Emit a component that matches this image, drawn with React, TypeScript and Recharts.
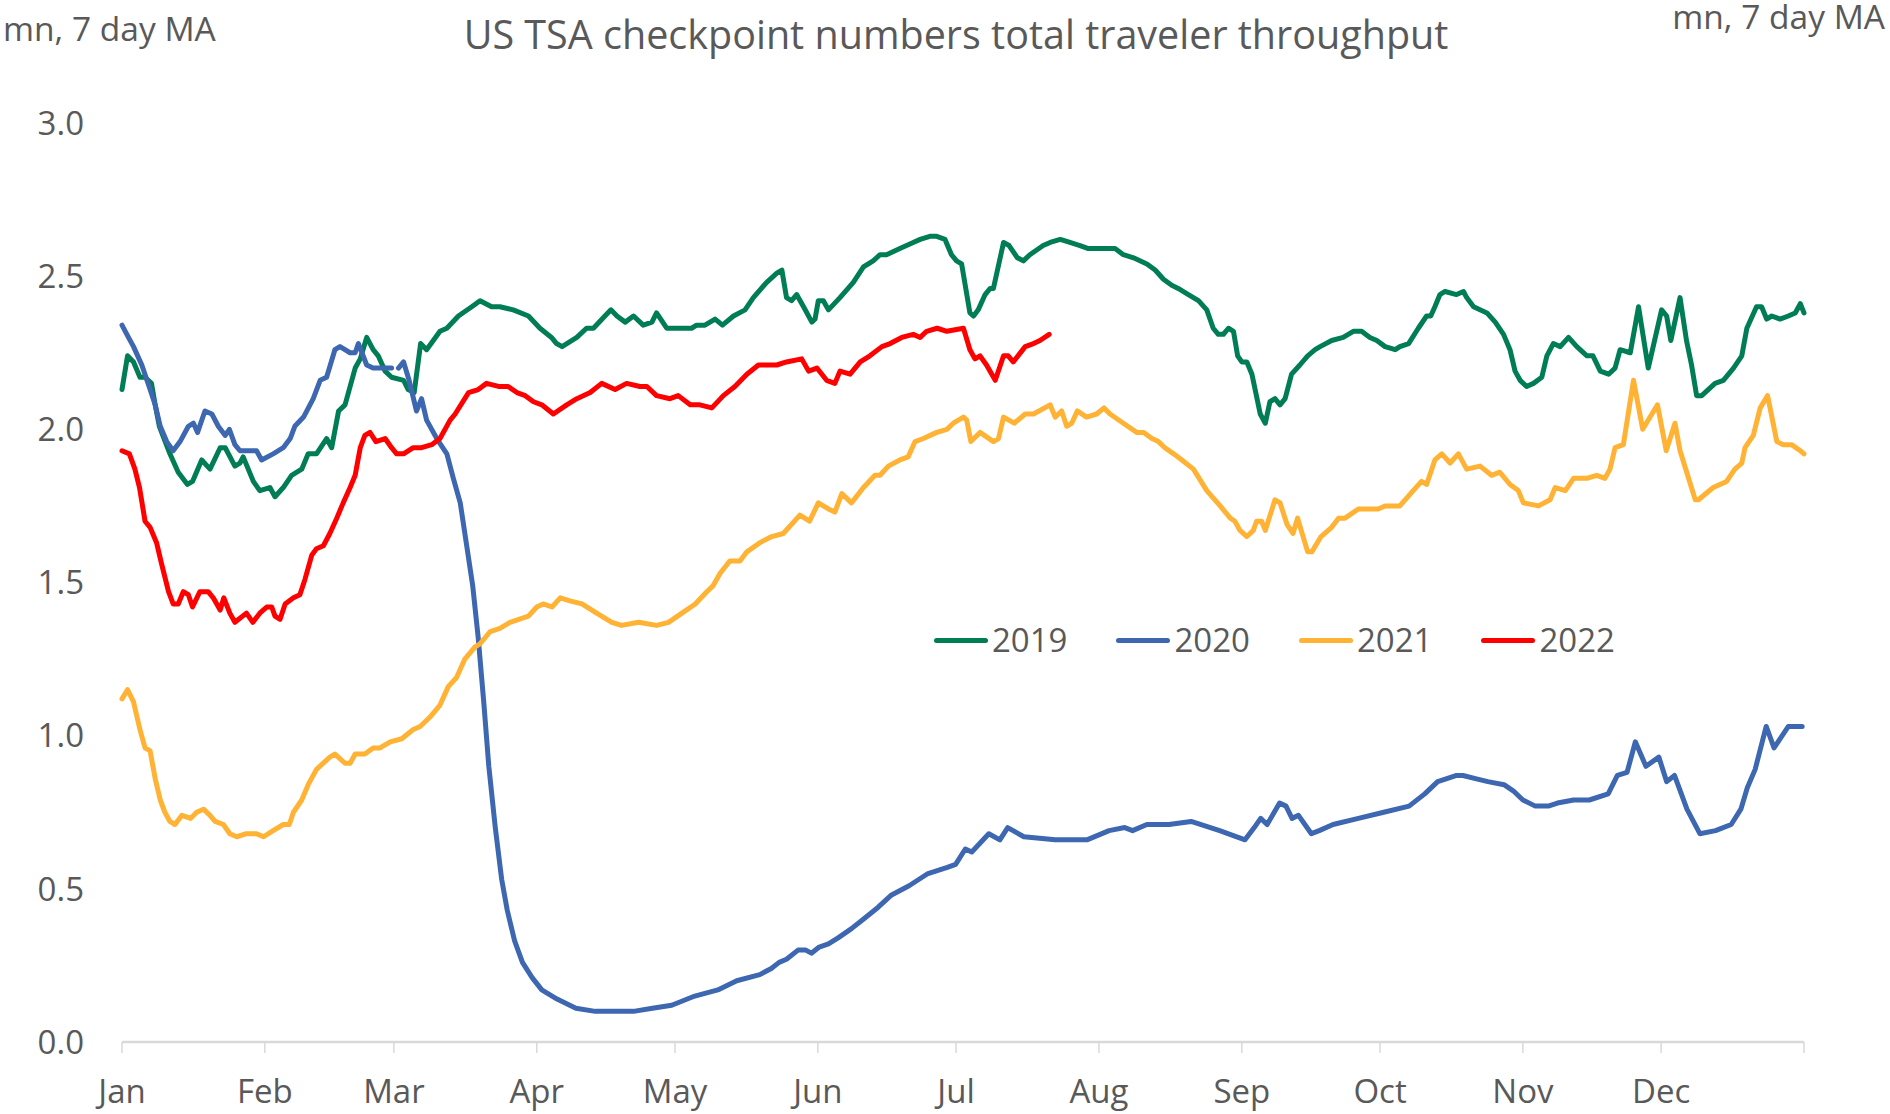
import React from 'react';
import { LineChart, Line, XAxis, YAxis, Legend } from 'recharts';

// x = day of year (0 = 1 Jan), y = travellers, mn, 7 day moving average
const tsa2019: [number, number][] = [
  [0, 2.13], [1.2, 2.24], [2.5, 2.22], [3.9, 2.17], [5, 2.17], [6.4, 2.15], [7.2, 2.08], [8.1, 2.01], [10.4, 1.92],
  [12.2, 1.86], [14.2, 1.82], [15.3, 1.83], [17.3, 1.9], [19.1, 1.87], [21.3, 1.94], [22.4, 1.94], [24.5, 1.88],
  [25.6, 1.89], [26.3, 1.91], [28.5, 1.83], [29.9, 1.8], [32.1, 1.81], [33.2, 1.78], [35, 1.81], [36.8, 1.85],
  [39, 1.87], [40.4, 1.92], [42.2, 1.92], [44.4, 1.97], [45.5, 1.94], [47, 2.06], [48.4, 2.08], [50.6, 2.2],
  [51.7, 2.23], [53.1, 2.3], [54.5, 2.26], [55.6, 2.24], [57.1, 2.19], [58.5, 2.17], [61.1, 2.16], [62.1, 2.13],
  [63.4, 2.12], [64.8, 2.28], [66.1, 2.26], [69, 2.32], [70.5, 2.33], [73, 2.37], [75.9, 2.4], [77.7, 2.42],
  [80.2, 2.4], [82, 2.4], [84.9, 2.39], [88.2, 2.37], [90.7, 2.33], [93.2, 2.3], [94.3, 2.28], [95.5, 2.27],
  [98.7, 2.3], [100.8, 2.33], [102.3, 2.33], [104.8, 2.37], [106.1, 2.39], [107.4, 2.37], [109.2, 2.35], [111, 2.37],
  [113.1, 2.34], [115, 2.35], [116, 2.38], [118.2, 2.33], [121.8, 2.33], [123.6, 2.33], [124.7, 2.34], [126.5, 2.34],
  [128.7, 2.36], [130.3, 2.34], [132.7, 2.37], [135.2, 2.39], [137, 2.43], [139.9, 2.48], [142.1, 2.51], [143.2, 2.52],
  [144.2, 2.43], [145.3, 2.42], [146.4, 2.44], [147.9, 2.4], [149.7, 2.35], [150.4, 2.36], [151.1, 2.42], [152.2, 2.42],
  [153.3, 2.39], [155.8, 2.43], [158.7, 2.48], [160.9, 2.53], [163, 2.55], [164.5, 2.57], [165.9, 2.57], [168.8, 2.59],
  [171.7, 2.61], [173.2, 2.62], [175.3, 2.63], [176.8, 2.63], [178.6, 2.62], [180, 2.57], [181.1, 2.55], [182.2, 2.54],
  [184, 2.38], [184.8, 2.37], [185.8, 2.39], [187.3, 2.44], [188.4, 2.46], [189.1, 2.46], [191.3, 2.61], [192.5, 2.6],
  [194.3, 2.56], [195.6, 2.55], [197, 2.57], [199.9, 2.6], [201.4, 2.61], [203.6, 2.62], [205.7, 2.61], [207.9, 2.6],
  [209.7, 2.59], [211.5, 2.59], [215.5, 2.59], [217.3, 2.57], [219.5, 2.56], [222.4, 2.54], [224.2, 2.52], [226, 2.49],
  [227.8, 2.47], [229.2, 2.46], [231.4, 2.44], [233.6, 2.42], [235.4, 2.39], [236.8, 2.33], [237.9, 2.31], [239, 2.31],
  [240.1, 2.33], [241.2, 2.32], [242.1, 2.24], [243, 2.22], [244.1, 2.22], [245.2, 2.18], [247, 2.05], [248.1, 2.02],
  [249.1, 2.09], [250.2, 2.1], [251.3, 2.08], [252.4, 2.1], [253.8, 2.18], [255.6, 2.21], [257.3, 2.24], [258.9, 2.26],
  [260, 2.27], [262.5, 2.29], [265, 2.3], [267.2, 2.32], [269, 2.32], [270.8, 2.3], [272.3, 2.29], [274.1, 2.27],
  [276.3, 2.26], [277.3, 2.27], [279.2, 2.28], [281.3, 2.33], [283.1, 2.37], [284, 2.37], [284.9, 2.4], [286, 2.44],
  [287.1, 2.45], [289.6, 2.44], [291.1, 2.45], [291.8, 2.43], [293.3, 2.4], [296.2, 2.38], [298, 2.35], [299.8, 2.31],
  [301.2, 2.26], [302.3, 2.19], [303.4, 2.16], [304.8, 2.14], [306.3, 2.15], [308.1, 2.17], [309.2, 2.24], [310.6, 2.28],
  [312.1, 2.27], [313.9, 2.3], [315.7, 2.27], [317.9, 2.24], [319.2, 2.24], [320.8, 2.19], [322.6, 2.18], [324, 2.2],
  [325.1, 2.26], [327.3, 2.25], [329.1, 2.4], [331.2, 2.2], [334.1, 2.39], [335.2, 2.37], [336.1, 2.29], [338.1, 2.43],
  [339.5, 2.29], [340.6, 2.21], [341.7, 2.11], [342.8, 2.11], [345.7, 2.15], [347.5, 2.16], [349.7, 2.2], [351.5, 2.24],
  [352.6, 2.33], [354.7, 2.4], [355.8, 2.4], [356.9, 2.36], [358, 2.37], [359.8, 2.36], [361.6, 2.37], [363.1, 2.38],
  [364.2, 2.41], [365, 2.38],
];

// null = missing day (29 Feb), the line breaks there
const tsa2020: [number, number | null][] = [
  [0, 2.34], [1.4, 2.3], [2.5, 2.27], [4.3, 2.21], [6.1, 2.13], [7.2, 2.08], [8.3, 2.01], [9.7, 1.96], [11.1, 1.93],
  [12.6, 1.96], [14.4, 2.01], [15.5, 2.02], [16.4, 1.99], [18, 2.06], [19.5, 2.05], [20.9, 2.01], [22.4, 1.98],
  [23.3, 2.0], [24.5, 1.95], [25.6, 1.93], [29.2, 1.93], [30.3, 1.9], [32.8, 1.92], [35, 1.94], [36.5, 1.97],
  [37.5, 2.01], [39.4, 2.04], [41.5, 2.1], [43, 2.16], [44.4, 2.17], [46.2, 2.26], [47.3, 2.27], [49.5, 2.25],
  [50.6, 2.25], [51.3, 2.28], [53.1, 2.21], [54.5, 2.2], [56.7, 2.2], [58.5, 2.2], [59.2, null], [60, 2.2],
  [61.1, 2.22], [62.3, 2.16], [63.9, 2.06], [65, 2.1], [66.1, 2.03], [68.3, 1.97], [70.5, 1.92], [71.9, 1.84],
  [73.4, 1.76], [74.8, 1.62], [76.1, 1.49], [77.3, 1.32], [78.5, 1.11], [79.6, 0.9], [81, 0.7], [82.4, 0.53],
  [83.6, 0.43], [85.2, 0.33], [86.9, 0.26], [89, 0.21], [91.1, 0.17], [94.4, 0.14], [98.5, 0.11], [102.7, 0.1],
  [107.3, 0.1], [111, 0.1], [115.1, 0.11], [119.3, 0.12], [124.3, 0.15], [129.3, 0.17], [133.4, 0.2], [138.4, 0.22],
  [140.9, 0.24], [142.6, 0.26], [144.2, 0.27], [146.7, 0.3], [148.4, 0.3], [149.6, 0.29], [151.3, 0.31], [153.3, 0.32],
  [155.4, 0.34], [158.3, 0.37], [160.8, 0.4], [164.1, 0.44], [167, 0.48], [170.8, 0.51], [174.9, 0.55], [179.1, 0.57],
  [180.9, 0.58], [183, 0.63], [184.4, 0.62], [188.1, 0.68], [190.5, 0.66], [192.2, 0.7], [195.7, 0.67], [202.5, 0.66],
  [209.4, 0.66], [214.2, 0.69], [217.6, 0.7], [219.3, 0.69], [222.4, 0.71], [227.2, 0.71], [232, 0.72], [238.2, 0.69],
  [243.7, 0.66], [245.7, 0.7], [247.1, 0.73], [248.5, 0.71], [251.2, 0.78], [252.6, 0.77], [253.9, 0.73], [255.3, 0.74],
  [258.1, 0.68], [259.8, 0.69], [262.8, 0.71], [268.3, 0.73], [273.8, 0.75], [279.3, 0.77], [282.7, 0.81], [285.5, 0.85],
  [287.5, 0.86], [289.6, 0.87], [291, 0.87], [293.7, 0.86], [296.4, 0.85], [299.9, 0.84], [301.9, 0.82], [304, 0.79],
  [306.7, 0.77], [309.5, 0.77], [311.5, 0.78], [315, 0.79], [318.4, 0.79], [322.5, 0.81], [324.5, 0.87], [326.6, 0.88],
  [328.4, 0.98], [330.7, 0.9], [333.5, 0.93], [335.2, 0.85], [336.9, 0.87], [339.6, 0.76], [342.4, 0.68], [345.8, 0.69],
  [349.2, 0.71], [351.3, 0.76], [352.7, 0.83], [354.4, 0.89], [356.8, 1.03], [358.5, 0.96], [361.6, 1.03], [362.9, 1.03],
  [364.6, 1.03],
];

const tsa2021: [number, number][] = [
  [0, 1.12], [1.2, 1.15], [2.5, 1.11], [3.9, 1.02], [5, 0.96], [6.1, 0.95], [7.2, 0.86], [8.3, 0.79], [9.3, 0.75],
  [10.4, 0.72], [11.5, 0.71], [13, 0.74], [14.9, 0.73], [16.2, 0.75], [17.7, 0.76], [19.1, 0.74], [20.2, 0.72],
  [22, 0.71], [23.4, 0.68], [24.9, 0.67], [27, 0.68], [29.2, 0.68], [30.7, 0.67], [32.8, 0.69], [35, 0.71],
  [36.3, 0.71], [37.2, 0.75], [39, 0.79], [40.4, 0.84], [42.2, 0.89], [45.1, 0.93], [46.2, 0.94], [48.4, 0.91],
  [49.5, 0.91], [50.6, 0.94], [52.7, 0.94], [54.5, 0.96], [56, 0.96], [58.2, 0.98], [60.7, 0.99], [63.2, 1.02],
  [64.7, 1.03], [66.8, 1.06], [69, 1.1], [70.8, 1.16], [72.6, 1.19], [74.4, 1.25], [76.6, 1.29], [77.7, 1.3],
  [79.9, 1.34], [82, 1.35], [84.2, 1.37], [88.2, 1.39], [90, 1.42], [91.4, 1.43], [93.3, 1.42], [95.1, 1.45],
  [97.2, 1.44], [99.8, 1.43], [103, 1.4], [106.3, 1.37], [108.4, 1.36], [112.1, 1.37], [116, 1.36], [118.6, 1.37],
  [121.5, 1.4], [124.4, 1.43], [126.9, 1.47], [128.3, 1.49], [129.8, 1.53], [131.9, 1.57], [134.1, 1.57], [135.6, 1.6],
  [138.4, 1.63], [141, 1.65], [143.5, 1.66], [147.1, 1.72], [149.2, 1.7], [151.1, 1.76], [153.3, 1.74], [154.7, 1.73],
  [156.2, 1.79], [158.3, 1.76], [160.9, 1.81], [163.4, 1.85], [164.5, 1.85], [166.3, 1.88], [168.8, 1.9], [170.6, 1.91],
  [172.1, 1.96], [173.9, 1.97], [176.8, 1.99], [179, 2.0], [180.4, 2.02], [182.6, 2.04], [183.3, 2.03], [184.2, 1.96],
  [186.2, 1.99], [189.1, 1.96], [190.2, 1.97], [191.3, 2.04], [193.6, 2.02], [196, 2.05], [197.8, 2.05], [201.4, 2.08],
  [202.5, 2.04], [203.9, 2.06], [205, 2.01], [206.1, 2.02], [207.3, 2.06], [209.3, 2.04], [211.5, 2.05], [213.1, 2.07],
  [214.4, 2.05], [217.3, 2.02], [220.2, 1.99], [221.7, 1.99], [223.5, 1.97], [224.9, 1.96], [226.3, 1.94], [228.2, 1.92],
  [230, 1.9], [232.5, 1.87], [235.4, 1.8], [238.3, 1.75], [240.5, 1.71], [241.5, 1.7], [242.6, 1.67], [244.1, 1.65],
  [245.5, 1.67], [246.2, 1.7], [247.3, 1.7], [248.1, 1.67], [250.2, 1.77], [251.3, 1.76], [252.8, 1.69], [254.1, 1.66],
  [255.1, 1.71], [257.3, 1.6], [258.2, 1.6], [260.2, 1.65], [262.5, 1.68], [264, 1.71], [265.4, 1.71], [268.3, 1.74],
  [270.5, 1.74], [272.6, 1.74], [274.1, 1.75], [277.3, 1.75], [280.2, 1.8], [282, 1.83], [283.1, 1.82], [284.9, 1.9],
  [286.4, 1.92], [288.2, 1.89], [290, 1.92], [291.8, 1.87], [294.7, 1.88], [297.2, 1.85], [299, 1.86], [301.2, 1.82],
  [303, 1.8], [304.1, 1.76], [307.4, 1.75], [309.9, 1.77], [311, 1.81], [313.2, 1.8], [315, 1.84], [317.9, 1.84],
  [320, 1.85], [321.8, 1.84], [322.9, 1.87], [324, 1.94], [325.8, 1.95], [328, 2.16], [330, 2.0], [333.2, 2.08],
  [335.1, 1.93], [337, 2.02], [338.1, 1.93], [341.4, 1.77], [342.1, 1.77], [345.3, 1.81], [348.2, 1.83], [350, 1.87],
  [351.5, 1.89], [352.2, 1.94], [354, 1.98], [355.5, 2.07], [357.1, 2.11], [359.1, 1.96], [360.5, 1.95], [362.3, 1.95],
  [364.2, 1.93], [365, 1.92],
];

const tsa2022: [number, number][] = [
  [0, 1.93], [1.6, 1.92], [2.8, 1.87], [3.8, 1.81], [5, 1.7], [6.1, 1.68], [7.5, 1.63], [8.6, 1.56], [10.1, 1.47],
  [11.1, 1.43], [12.2, 1.43], [13.3, 1.47], [14.4, 1.46], [15.3, 1.42], [16.9, 1.47], [18.7, 1.47], [19.8, 1.45],
  [21.3, 1.41], [22.1, 1.45], [23.4, 1.4], [24.5, 1.37], [27, 1.4], [28.4, 1.37], [29.9, 1.4], [31.4, 1.42],
  [32.5, 1.42], [33.2, 1.39], [34.3, 1.38], [35.4, 1.43], [37.2, 1.45], [38.6, 1.46], [39.7, 1.51], [41.2, 1.59],
  [42.2, 1.61], [43.7, 1.62], [45.1, 1.66], [46.6, 1.71], [48, 1.76], [49.5, 1.81], [50.6, 1.85], [51.7, 1.94],
  [52.7, 1.98], [53.8, 1.99], [55.1, 1.96], [57.1, 1.97], [58.5, 1.94], [59.6, 1.92], [61.1, 1.92], [63.2, 1.94],
  [65, 1.94], [67.2, 1.95], [69, 1.97], [71.2, 2.03], [72.3, 2.05], [75.2, 2.12], [77.3, 2.13], [79.1, 2.15],
  [81.7, 2.14], [83.8, 2.14], [85.7, 2.12], [87.5, 2.11], [89.3, 2.09], [91.1, 2.08], [93.6, 2.05], [96.5, 2.08],
  [98.7, 2.1], [101.6, 2.12], [104.1, 2.15], [107, 2.13], [109.5, 2.15], [112.4, 2.14], [113.9, 2.14], [116, 2.11],
  [118.9, 2.1], [120.7, 2.11], [123.3, 2.08], [125.4, 2.08], [128, 2.07], [130.5, 2.11], [133, 2.14], [135.6, 2.18],
  [138.1, 2.21], [140.3, 2.21], [142.1, 2.21], [144.2, 2.22], [147.5, 2.23], [149, 2.19], [150.8, 2.2], [152.9, 2.16],
  [154.7, 2.15], [155.8, 2.19], [158, 2.18], [160.2, 2.22], [162.3, 2.24], [164.9, 2.27], [166.7, 2.28], [169.2, 2.3],
  [171.7, 2.31], [173.2, 2.3], [174.6, 2.32], [176.9, 2.33], [179, 2.32], [182.6, 2.33], [184, 2.26], [185.1, 2.23],
  [186.2, 2.24], [187.6, 2.21], [189.5, 2.16], [191.3, 2.24], [192.3, 2.24], [193.4, 2.22], [196, 2.27], [197.8, 2.28],
  [199.2, 2.29], [201.2, 2.31],
];

const monthStarts = [0, 31, 59, 90, 120, 151, 181, 212, 243, 273, 304, 334, 365];
const monthLabels = ['Jan', 'Feb', 'Mar', 'Apr', 'May', 'Jun', 'Jul', 'Aug', 'Sep', 'Oct', 'Nov', 'Dec'];
const yTicks = [0, 0.5, 1, 1.5, 2, 2.5, 3];

const FONT = '"Open Sans", "Noto Sans", sans-serif';
const GREY = '#595959';

const series = [
  { name: '2019', color: '#007D55', points: tsa2019 },
  { name: '2020', color: '#3D67B1', points: tsa2020 },
  { name: '2021', color: '#FFB233', points: tsa2021 },
  { name: '2022', color: '#FF0000', points: tsa2022 },
];

const toRows = (pts: [number, number | null][]) => pts.map(([day, v]) => ({ day, v }));

const LegendRow = () => (
  <div style={{ display: 'flex', alignItems: 'center', fontFamily: FONT, fontSize: 33, color: GREY, lineHeight: '44px' }}>
    {series.map((s) => (
      <div key={s.name} style={{ display: 'flex', alignItems: 'center', marginRight: 49 }}>
        <div style={{ width: 54, height: 5, borderRadius: 3, background: s.color, marginRight: 4 }} />
        <span>{s.name}</span>
      </div>
    ))}
  </div>
);

export default function App() {
  const tickStyle = { fontSize: 33, fill: GREY, fontFamily: FONT };
  return (
    <div style={{ position: 'absolute', left: 0, top: 0, width: 1890, height: 1114, background: '#fff' }}>
      <LineChart
        width={1890}
        height={1114}
        margin={{ top: 123, right: 6, bottom: 12, left: 42 }}
      >
        <XAxis
          dataKey="day"
          type="number"
          domain={[0, 365]}
          ticks={monthStarts}
          interval={0}
          allowDuplicatedCategory={false}
          tickFormatter={(d: number) => monthLabels[monthStarts.indexOf(d)] ?? ''}
          height={60}
          axisLine={{ stroke: '#D9D9D9', strokeWidth: 2.5 }}
          tickLine={{ stroke: '#D9D9D9', strokeWidth: 1.5 }}
          tickSize={11}
          tickMargin={27}
          tick={tickStyle}
        />
        <YAxis
          yAxisId="left"
          domain={[0, 3]}
          ticks={yTicks}
          width={80}
          axisLine={false}
          tickLine={false}
          tickSize={0}
          tickMargin={38}
          tickFormatter={(v: number) => v.toFixed(1)}
          tick={tickStyle}
        />
        <YAxis
          yAxisId="right"
          orientation="right"
          domain={[0, 3]}
          ticks={yTicks}
          width={80}
          axisLine={false}
          tickLine={false}
          tickSize={0}
          tickMargin={37}
          tickFormatter={(v: number) => v.toFixed(1)}
          tick={tickStyle}
        />
        {series.map((s) => (
          <Line
            key={s.name}
            yAxisId="left"
            data={toRows(s.points)}
            dataKey="v"
            name={s.name}
            type="linear"
            stroke={s.color}
            strokeWidth={5}
            strokeLinejoin="round"
            strokeLinecap="round"
            dot={false}
            activeDot={false}
            connectNulls={false}
            isAnimationActive={false}
          />
        ))}
        <Legend
          layout="horizontal"
          verticalAlign="middle"
          align="center"
          content={() => <LegendRow />}
          wrapperStyle={{ left: 934, top: 618, width: 'auto' }}
        />
      </LineChart>
      <svg
        width={1890}
        height={1114}
        style={{ position: 'absolute', left: 0, top: 0, pointerEvents: 'none' }}
      >
        <text x={956} y={49} textAnchor="middle" fontFamily={FONT} fontSize={39.5} fill={GREY}>
          US TSA checkpoint numbers total traveler throughput
        </text>
        <text x={3} y={41} textAnchor="start" fontFamily={FONT} fontSize={33.5} fill={GREY}>
          mn, 7 day MA
        </text>
        <text x={1885} y={29} textAnchor="end" fontFamily={FONT} fontSize={33.5} fill={GREY}>
          mn, 7 day MA
        </text>
      </svg>
    </div>
  );
}
